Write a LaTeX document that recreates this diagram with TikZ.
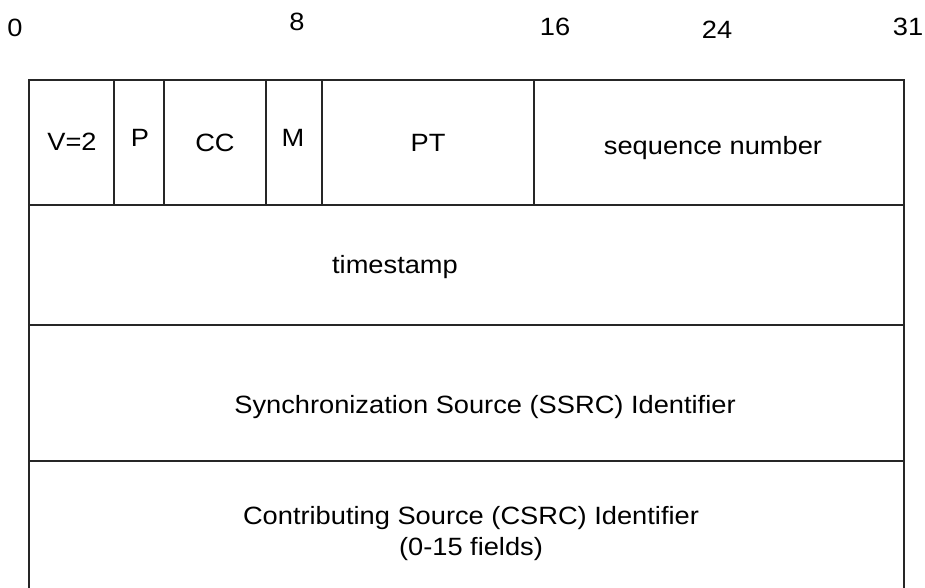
\documentclass[tikz,border=0pt]{standalone}
\usepackage{fontspec}
\setmainfont{Liberation Sans}
\newfontfamily\widesans[FakeStretch=1.09]{Liberation Sans}
\begin{document}
\begin{tikzpicture}[x=1pt, y=-1pt,
    frame/.style={line width=1.6pt, draw=black!85},
    bitnum/.style={font=\widesans\fontsize{25}{28}\selectfont, inner sep=0pt},
    field/.style={font=\widesans\fontsize{25}{31}\selectfont, align=center, inner sep=0pt},
]
\useasboundingbox (0,0) rectangle (925,588);

% === Bit numbers ===
\node[bitnum] (b0) at (15, 28) {0};
\node[bitnum] (b8) at (297, 22) {8};
\node[bitnum] (b16) at (555, 27) {16};
\node[bitnum] (b24) at (717, 30) {24};
\node[bitnum] (b31) at (908, 27) {31};

% === Header frame ===
\draw[frame] (29, 588) -- (29, 80) -- (904, 80) -- (904, 588);
\draw[frame] (29, 205) -- (904, 205);
\draw[frame] (29, 325) -- (904, 325);
\draw[frame] (29, 461) -- (904, 461);
\foreach \x in {114, 164, 266, 322, 534}
    \draw[frame] (\x, 80) -- (\x, 205);

% === First word ===
\node[field] (ver) at (72, 142) {V=2};
\node[field] (pad) at (140, 138) {P};
\node[field] (cc) at (215, 143) {CC};
\node[field] (mark) at (293, 138) {M};
\node[field] (pt) at (428, 143) {PT};
\node[field] (seq) at (713, 148) {sequence number};

% === Following words ===
\node[field] (ts) at (395, 267) {timestamp};
\node[field] (ssrc) at (485, 407) {Synchronization Source (SSRC) Identifier};
\node[field] (csrc) at (471, 534)
    {Contributing Source (CSRC) Identifier\\(0-15 fields)};

\end{tikzpicture}
\end{document}
